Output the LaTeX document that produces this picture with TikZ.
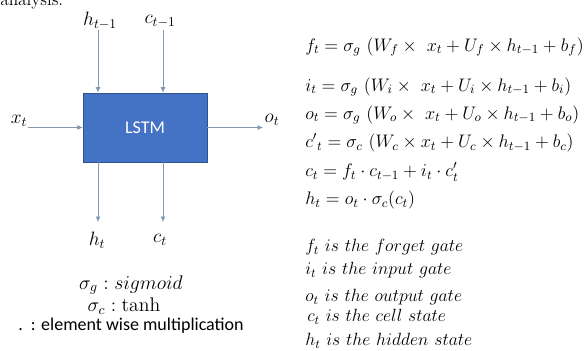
\RequirePackage{fix-cm}
\documentclass[tikz,border=0pt]{standalone}
\usepackage{amsmath}
\usepackage{fontspec}
\usepackage{xcolor}
\usetikzlibrary{positioning,arrows.meta}
\newfontfamily\calibri{Carlito}
\definecolor{cellblue}{HTML}{4472C4}
\definecolor{celledge}{HTML}{2F528F}
\definecolor{wiregray}{HTML}{8497B0}
\tikzset{>=latex}

\begin{document}
\begin{tikzpicture}[x=0.75pt,y=-0.75pt,
	cellbox/.style={draw=celledge,fill=cellblue,minimum width=93pt,minimum height=52pt,inner sep=0pt,text=white,font=\calibri\fontsize{13.5}{15}\selectfont},
	wire/.style={draw=wiregray,-{Latex[length=4pt,width=3.5pt]}},
	lbl/.style={inner sep=1pt,font=\fontsize{14.5}{17}\selectfont},
	eqline/.style={anchor=west,inner sep=0pt,font=\fontsize{13.6}{15}\selectfont},
	gateline/.style={anchor=west,inner sep=0pt,font=\fontsize{13.3}{15}\selectfont},
	legend/.style={inner sep=0pt,font=\fontsize{14.8}{17}\selectfont}]
	\useasboundingbox (0,0) rectangle (585,350);
	% cut-off line of the page above
	\node[anchor=base west,inner sep=0pt,font=\fontsize{13}{15}\selectfont] (cut) at (0,5) {analysis.};
	% the cell
	\node[cellbox] (cell) at (145,127.5) {LSTM};
	\node[lbl] (hprev) at (100,21) {$h_{t-1}$};
	\node[lbl] (cprev) at (160,21) {$c_{t-1}$};
	\node[lbl] (xin) at (19,121) {$x_t$};
	\node[lbl] (oout) at (272,120) {$o_t$};
	\node[lbl] (hout) at (97,240) {$h_t$};
	\node[lbl] (cout) at (160,240) {$c_t$};
	\coordinate (hin) at (98,30);
	\coordinate (cin) at (163,30);
	\coordinate (xs) at (28,127.5);
	\coordinate (oe) at (263,127.5);
	\coordinate (he) at (98,222);
	\coordinate (ce) at (163,222);
	\draw[wire] (hin) -- (hin |- cell.north);
	\draw[wire] (cin) -- (cin |- cell.north);
	\draw[wire] (xs) -- (cell.west);
	\draw[wire] (cell.east) -- (oe);
	\draw[wire] (he |- cell.south) -- (he);
	\draw[wire] (ce |- cell.south) -- (ce);
	% legend
	\node[legend] (sg) at (131,285) {$\sigma_g : sigmoid$};
	\node[legend] (sc) at (124,306) {$\sigma_c : \tanh$};
	\node[legend,font=\calibri\fontsize{13.5}{15}\selectfont] (dot) at (131,326) {.\ \ : element wise multiplication};
	% equations
	\node[eqline] (eqf) at (305,47) {$f_t = \sigma_g\ (W_f \times\ x_t + U_f \times h_{t-1} + b_f)$};
	\node[eqline] (eqi) at (305,87) {$i_t = \sigma_g\ (W_i \times\ x_t + U_i \times h_{t-1} + b_i)$};
	\node[eqline] (eqo) at (305,115) {$o_t = \sigma_g\ (W_o \times\ x_t + U_o \times h_{t-1} + b_o)$};
	\node[eqline] (eqcc) at (305,143) {$c'{}_t = \sigma_c\ (W_c \times x_t + U_c \times h_{t-1} + b_c)$};
	\node[eqline] (eqc) at (305,172) {$c_t = f_t \cdot c_{t-1} + i_t \cdot c'_t$};
	\node[eqline] (eqh) at (305,200) {$h_t = o_t \cdot \sigma_c(c_t)$};
	% gates
	\node[gateline] (gf) at (305,247) {$f_t\ is\ the\ forget\ gate$};
	\node[gateline] (gi) at (305,270) {$i_t\ is\ the\ input\ gate$};
	\node[gateline] (go) at (305,297) {$o_t\ is\ the\ output\ gate$};
	\node[gateline] (gc) at (307,317) {$c_t\ is\ the\ cell\ state$};
	\node[gateline] (gh) at (305,341) {$h_t\ is\ the\ hidden\ state$};
\end{tikzpicture}
\end{document}
